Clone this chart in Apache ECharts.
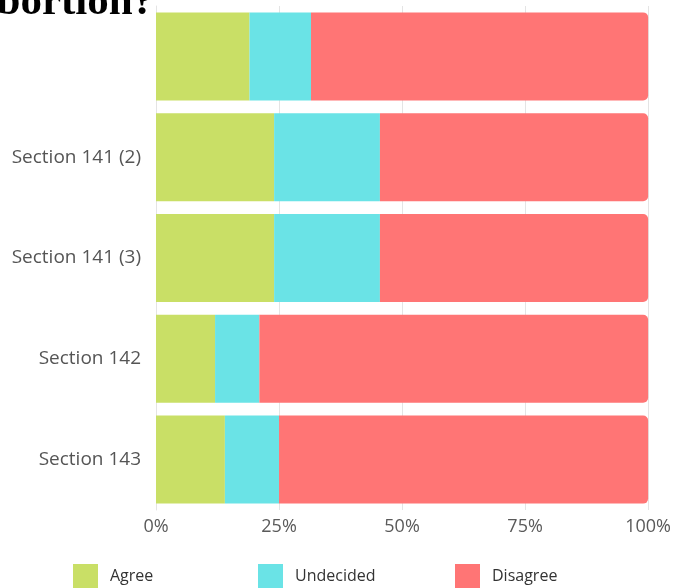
<!DOCTYPE html>
<html><head><meta charset="utf-8">
<script src="https://cdn.jsdelivr.net/npm/echarts@6/dist/echarts.min.js"></script>
<style>html,body{margin:0;padding:0;background:#fff}#c{width:674px;height:588px}</style>
</head><body><div id="c"></div>
<script>
const categories = ["", "Section 141 (2)", "Section 141 (3)", "Section 142", "Section 143"];
const agree = [19, 24, 24, 12, 14];
const undecided = [12.5, 21.5, 21.5, 9, 11];
const disagree = [68.5, 54.5, 54.5, 79, 75];
const xTicks = [0, 25, 50, 75, 100];
const seriesNames = ["Agree", "Undecided", "Disagree"];
const colors = ["#c9df66", "#6ae3e6", "#ff7575"];
const titleText = "abortion?";

const chart = echarts.init(document.getElementById('c'), null, {renderer: 'canvas'});
const font = "Open Sans";
function legendAt(i, left) {
  return {
    data: [seriesNames[i]], left: left, top: 564, icon: 'rect', padding: 0,
    itemWidth: 25, itemHeight: 25,
    textStyle: {fontFamily: font, fontSize: 16, color: '#333', padding: [6, 0, 0, 7]},
    selectedMode: false
  };
}
chart.setOption({
  animation: false,
  color: colors,
  graphic: [{
    type: 'text', left: -25, top: -19,
    style: {text: titleText, font: 'bold 43px "Liberation Serif"', fill: '#000'}
  }],
  grid: {left: 156, right: 25, top: 6, bottom: 78, containLabel: false},
  legend: [legendAt(0, 73), legendAt(1, 258), legendAt(2, 455)],
  xAxis: {
    type: 'value', min: 0, max: 100, interval: 25,
    axisLine: {show: false}, axisTick: {show: false},
    splitLine: {show: true, lineStyle: {color: '#e4e4e4', width: 1}},
    axisLabel: {
      margin: 8, fontFamily: font, fontSize: 18, color: '#5a5a5a',
      formatter: v => (xTicks.indexOf(v) >= 0 ? v + '%' : '')
    }
  },
  yAxis: {
    type: 'category', data: categories, inverse: true,
    axisLine: {show: true, lineStyle: {color: '#e4e4e4'}}, axisTick: {show: false},
    axisLabel: {margin: 15, fontFamily: font, fontSize: 19, color: '#555',
      padding: [5, 0, 0, 0]}
  },
  series: [
    {name: seriesNames[0], type: 'bar', stack: 't', data: agree, barCategoryGap: '12.7%'},
    {name: seriesNames[1], type: 'bar', stack: 't', data: undecided},
    {name: seriesNames[2], type: 'bar', stack: 't', data: disagree, itemStyle: {borderRadius: [0, 5, 5, 0]}}
  ]
});
</script></body></html>
